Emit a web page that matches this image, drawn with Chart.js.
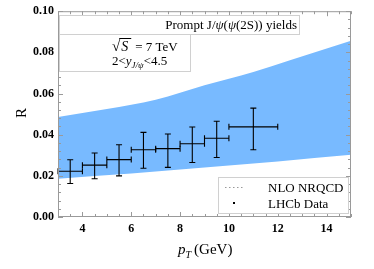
<!DOCTYPE html>
<html>
<head>
<meta charset="utf-8">
<script src="https://cdn.jsdelivr.net/npm/chart.js@4"></script>
<style>
  body { margin: 0; background: #fff; }
  canvas { display: block; }
</style>
</head>
<body>
<canvas id="myChart" width="374" height="269"></canvas>
<script>
// LHCb data points (pT bins)
const ptCenter = [3.5, 4.5, 5.5, 6.5, 7.5, 8.5, 9.5, 11];
const ptLow = [3, 4, 5, 6, 7, 8, 9, 10];
const ptHigh = [4, 5, 6, 7, 8, 9, 10, 12];
const ratio = [0.0222, 0.0252, 0.0279, 0.0327, 0.0332, 0.0356, 0.0383, 0.0438];
const ratioLow = [0.0163, 0.0186, 0.0200, 0.0237, 0.0241, 0.0265, 0.0289, 0.0327];
const ratioHigh = [0.0278, 0.0311, 0.0351, 0.0411, 0.0403, 0.0437, 0.0465, 0.0529];

// NLO NRQCD band
const bandUpperPt = [3, 5, 7, 9, 11, 12.5, 15];
const bandUpper = [0.0486, 0.0525, 0.0570, 0.0640, 0.0705, 0.0762, 0.0857];
const bandLowerPt = [3, 6, 9, 12, 15];
const bandLower = [0.0186, 0.0211, 0.0240, 0.0270, 0.0302];

// ticks
const xTicks = [4, 6, 8, 10, 12, 14];
const yTicks = [0, 0.02, 0.04, 0.06, 0.08, 0.10];

const serif = '"Liberation Serif", "DejaVu Serif", serif';

const frameAndBars = {
    id: 'frameAndBars',
    afterDatasetsDraw(chart) {
        const ctx = chart.ctx;
        const xs = chart.scales.x, ys = chart.scales.y;
        ctx.save();
        // error bars
        ctx.strokeStyle = '#000';
        ctx.lineWidth = 1.1;
        for (let i = 0; i < ptCenter.length; i++) {
            const px = xs.getPixelForValue(ptCenter[i]);
            const py = ys.getPixelForValue(ratio[i]);
            const x0 = xs.getPixelForValue(ptLow[i]), x1 = xs.getPixelForValue(ptHigh[i]);
            const y0 = ys.getPixelForValue(ratioLow[i]), y1 = ys.getPixelForValue(ratioHigh[i]);
            ctx.beginPath();
            ctx.moveTo(x0, py); ctx.lineTo(x1, py);
            ctx.moveTo(x0, py - 3); ctx.lineTo(x0, py + 3);
            ctx.moveTo(x1, py - 3); ctx.lineTo(x1, py + 3);
            ctx.moveTo(px, y0); ctx.lineTo(px, y1);
            ctx.moveTo(px - 3, y0); ctx.lineTo(px + 3, y0);
            ctx.moveTo(px - 3, y1); ctx.lineTo(px + 3, y1);
            ctx.stroke();
        }
        // frame
        const a = chart.chartArea;
        ctx.strokeStyle = '#9a9a9a';
        ctx.lineWidth = 1;
        ctx.strokeRect(a.left + 0.5, a.top + 0.5, a.right - a.left - 1, a.bottom - a.top - 1);
        // inward ticks
        ctx.beginPath();
        for (let v = 3; v <= 15.001; v += 0.5) {
            const p = Math.round(xs.getPixelForValue(v)) + 0.5;
            const len = (Math.abs(v % 2) < 1e-6) ? 5 : 3;
            ctx.moveTo(p, a.bottom); ctx.lineTo(p, a.bottom - len);
            ctx.moveTo(p, a.top); ctx.lineTo(p, a.top + len);
        }
        for (let k = 0; k <= 25; k++) {
            const v = k * 0.004;
            const p = Math.round(ys.getPixelForValue(v)) + 0.5;
            const len = (k % 5 === 0) ? 5 : 3;
            ctx.moveTo(a.left, p); ctx.lineTo(a.left + len, p);
            ctx.moveTo(a.right, p); ctx.lineTo(a.right - len, p);
        }
        ctx.stroke();
        ctx.restore();
    },
    afterDraw(chart) {
        const ctx = chart.ctx;
        const a = chart.chartArea;
        ctx.save();
        ctx.fillStyle = '#000';
        ctx.textBaseline = 'alphabetic';

        // top boxes
        ctx.strokeStyle = '#d0d0d0';
        ctx.lineWidth = 1;
        ctx.fillStyle = '#fff';
        ctx.fillRect(a.left + 1, 15, 240, 19);
        ctx.strokeRect(a.left + 1.5, 15.5, 240, 19);
        ctx.fillRect(a.left + 1, 34, 131, 37);
        ctx.strokeRect(a.left + 1.5, 34.5, 131, 37);

        ctx.fillStyle = '#000';
        // "Prompt J/ψ(ψ(2S)) yields", right aligned
        const parts = [
            ['Prompt J/', false], ['ψ', true], ['(', false], ['ψ', true], ['(2S)) yields', false]
        ];
        const fN = '13px ' + serif, fI = 'italic 13px ' + serif;
        let w = 0;
        parts.forEach(p => { ctx.font = p[1] ? fI : fN; w += ctx.measureText(p[0]).width; });
        let x = 297 - w;
        parts.forEach(p => {
            ctx.font = p[1] ? fI : fN;
            ctx.fillText(p[0], x, 29);
            x += ctx.measureText(p[0]).width;
        });

        // sqrt(S) = 7 TeV
        ctx.font = '15px ' + serif;
        ctx.fillText('√', 112, 51);
        let sx = 112 + ctx.measureText('√').width;
        ctx.font = 'italic 14px ' + serif;
        ctx.fillText('S', sx + 1, 51);
        const sw = ctx.measureText('S').width;
        ctx.beginPath();
        ctx.strokeStyle = '#000';
        ctx.moveTo(sx - 1, 38.5); ctx.lineTo(sx + sw + 4, 38.5);
        ctx.stroke();
        ctx.font = '13px ' + serif;
        ctx.fillText('= 7 TeV', sx + sw + 8, 51);

        // 2 < y_J/ψ < 4.5
        ctx.font = '13px ' + serif;
        ctx.fillText('2<', 112, 65);
        let tx = 112 + ctx.measureText('2<').width;
        ctx.font = 'italic 13px ' + serif;
        ctx.fillText('y', tx, 65);
        tx += ctx.measureText('y').width;
        ctx.font = 'italic 9px ' + serif;
        ctx.fillText('J/ψ', tx, 68);
        tx += ctx.measureText('J/ψ').width;
        ctx.font = '13px ' + serif;
        ctx.fillText('<4.5', tx, 65);

        // legend box bottom right
        ctx.fillStyle = '#fff';
        ctx.fillRect(218, 177, 130, 36);
        ctx.strokeStyle = '#d0d0d0';
        ctx.strokeRect(218.5, 177.5, 130, 36);
        ctx.strokeStyle = '#999';
        ctx.setLineDash([1.5, 2.5]);
        ctx.beginPath();
        ctx.moveTo(225, 187.5); ctx.lineTo(243, 187.5);
        ctx.stroke();
        ctx.setLineDash([]);
        ctx.fillStyle = '#000';
        ctx.fillRect(233, 202, 2, 2);
        ctx.font = '13px ' + serif;
        ctx.fillText('NLO NRQCD', 268, 192);
        ctx.fillText('LHCb Data', 268, 208);

        // axis titles
        ctx.font = '15px ' + serif;
        ctx.save();
        ctx.translate(26, 113);
        ctx.rotate(-Math.PI / 2);
        ctx.textAlign = 'center';
        ctx.fillText('R', 0, 0);
        ctx.restore();

        ctx.font = 'italic 15px ' + serif;
        let ax = 178;
        ctx.fillText('p', ax, 254);
        ax += ctx.measureText('p').width;
        ctx.font = 'italic 10px ' + serif;
        ctx.fillText('T', ax, 258);
        ax += ctx.measureText('T').width + 3;
        ctx.font = '15px ' + serif;
        ctx.fillText('(GeV)', ax, 254);
        ctx.restore();
    }
};

const config = {
    type: 'scatter',
    data: {
        datasets: [{
                label: 'NLO NRQCD upper',
                data: bandUpperPt.map((v, i) => ({ x: v, y: bandUpper[i] })),
                showLine: true,
                borderWidth: 0,
                borderColor: 'rgba(0,0,0,0)',
                backgroundColor: 'rgb(120,186,255)',
                pointRadius: 0,
                cubicInterpolationMode: 'monotone',
                fill: '+1'
            },
            {
                label: 'NLO NRQCD lower',
                data: bandLowerPt.map((v, i) => ({ x: v, y: bandLower[i] })),
                showLine: true,
                borderWidth: 0,
                borderColor: 'rgba(0,0,0,0)',
                pointRadius: 0,
                cubicInterpolationMode: 'monotone',
                fill: false
            },
            {
                label: 'LHCb Data',
                data: ptCenter.map((v, i) => ({ x: v, y: ratio[i] })),
                pointStyle: 'rect',
                pointRadius: 1.6,
                backgroundColor: '#000',
                borderColor: '#000',
                borderWidth: 0
            }
        ]
    },
    options: {
        responsive: false,
        animation: false,
        layout: {
            padding: { top: 7, right: 23, left: 0, bottom: 0 }
        },
        plugins: {
            legend: { display: false },
            tooltip: { enabled: false }
        },
        scales: {
            x: {
                type: 'linear',
                min: 3,
                max: 15,
                afterBuildTicks: s => { s.ticks = xTicks.map(v => ({ value: v })); },
                afterFit: s => { s.height = 52; },
                grid: { display: false, drawTicks: false },
                border: { display: false },
                ticks: {
                    padding: 5,
                    color: '#000',
                    font: { family: serif, size: 12, weight: 'bold' },
                    callback: v => v
                }
            },
            y: {
                type: 'linear',
                min: 0,
                max: 0.10,
                afterBuildTicks: s => { s.ticks = yTicks.map(v => ({ value: v })); },
                afterFit: s => { s.width = 58; },
                grid: { display: false, drawTicks: false },
                border: { display: false },
                ticks: {
                    padding: 4,
                    color: '#000',
                    font: { family: serif, size: 12, weight: 'bold' },
                    callback: v => v.toFixed(2)
                }
            }
        }
    },
    plugins: [frameAndBars]
};

var myChart = new Chart(document.getElementById('myChart'), config);
</script>
</body>
</html>
